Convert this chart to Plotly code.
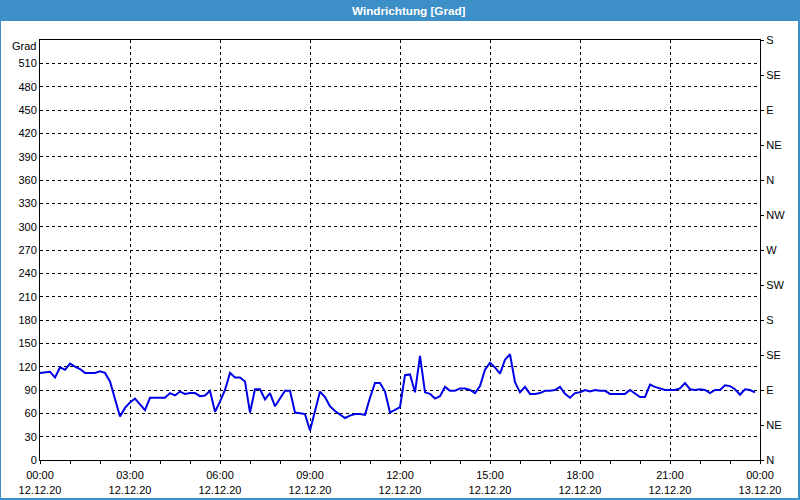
import pandas as pd
import plotly.graph_objects as go

# 10-minute wind direction readings (degrees), 12.12.20 00:00 .. 23:50
direction = [
    112, 113, 113.5, 106, 119, 116, 124, 120, 117, 112, 112, 112,
    114, 112, 101, 80, 56, 67, 74, 79, 72, 64, 80, 80,
    80, 80, 86, 83, 88, 85, 86, 86, 82, 83, 89, 62,
    75, 90, 112, 106, 106, 101, 61, 91, 91, 78, 86, 69,
    79, 89, 89, 61, 60, 59, 38, 63, 88, 81, 69, 63,
    58, 54, 57, 59, 59, 58, 80, 99, 99, 88, 61, 64,
    68, 109, 110, 87, 134, 87, 85, 79, 82, 94, 89, 89,
    92, 92, 90, 86, 95, 116, 125, 119, 111, 129, 136, 100,
    87, 94, 85, 85, 86, 89, 89, 90, 94, 85, 80, 86,
    87, 90, 88, 90, 89, 89, 85, 85, 85, 85, 90, 86,
    81, 81, 97, 94, 92, 90, 90, 90, 92, 99, 91, 90,
    91, 90, 86, 90, 90, 96, 95, 91, 84, 91, 90, 87,
]
start_time = "2020-12-12 00:00"
times = pd.date_range(start_time, periods=len(direction), freq="10min")

x_tick_times = ["2020-12-12 00:00", "2020-12-12 03:00", "2020-12-12 06:00",
                "2020-12-12 09:00", "2020-12-12 12:00", "2020-12-12 15:00",
                "2020-12-12 18:00", "2020-12-12 21:00", "2020-12-13 00:00"]
x_tick_text = ["00:00<br>12.12.20", "03:00<br>12.12.20", "06:00<br>12.12.20",
               "09:00<br>12.12.20", "12:00<br>12.12.20", "15:00<br>12.12.20",
               "18:00<br>12.12.20", "21:00<br>12.12.20", "00:00<br>13.12.20"]
y_ticks = list(range(0, 540, 30))
compass_vals = list(range(0, 541, 45))
compass_text = ["N", "NE", "E", "SE", "S", "SW", "W", "NW", "N", "NE", "E", "SE", "S"]

title_text = "Windrichtung [Grad]"
unit_text = "Grad"

FONT = "Liberation Sans"
W, H = 800, 500
L, R, T, B = 40, 40, 40, 40
PW, PH = W - L - R, H - T - B

def px(x):
    return (x - L) / PW

def py(y):
    return (H - B - y) / PH

fig = go.Figure()
fig.add_trace(go.Scatter(x=times, y=direction, mode="lines",
                         line=dict(color="#0000e6", width=2), showlegend=False))
# invisible trace for right compass axis
fig.add_trace(go.Scatter(x=[times[0]], y=[0], yaxis="y2", mode="markers",
                         marker=dict(opacity=0), showlegend=False, hoverinfo="skip"))

fig.update_layout(
    width=W, height=H,
    margin=dict(l=L, r=R, t=T, b=B, autoexpand=False),
    paper_bgcolor="white", plot_bgcolor="white",
    font=dict(family=FONT, size=11, color="black"),
    xaxis=dict(
        range=["2020-12-12 00:00", "2020-12-13 00:00"],
        tickvals=x_tick_times, ticktext=x_tick_text,
        showgrid=True, gridcolor="black", griddash="3px,3px", gridwidth=1,
        showline=True, linecolor="black", linewidth=1, mirror=True,
        ticks="outside", ticklen=3, tickcolor="black", ticklabelstandoff=2,
        minor=dict(dtick=3600000, ticks="outside", ticklen=3, tickcolor="black", showgrid=False),
        zeroline=False, tickangle=0, automargin=False,
    ),
    yaxis=dict(
        range=[0, 540], tickvals=y_ticks,
        showgrid=True, gridcolor="black", griddash="3px,3px", gridwidth=1,
        showline=True, linecolor="black", linewidth=1, mirror=True,
        ticks="", zeroline=False, automargin=False,
    ),
    yaxis2=dict(
        range=[0, 540], overlaying="y", side="right",
        tickvals=compass_vals, ticktext=compass_text,
        showgrid=False, showline=True, linecolor="black", linewidth=1,
        ticks="outside", ticklen=3, tickcolor="black", zeroline=False, automargin=False,
    ),
    shapes=[
        dict(type="rect", xref="paper", yref="paper", x0=px(0), x1=px(W), y0=py(21), y1=py(0),
             fillcolor="#3c8fc7", line=dict(width=0), layer="below"),
        dict(type="rect", xref="paper", yref="paper", x0=px(0), x1=px(1), y0=py(H), y1=py(0),
             fillcolor="#3c8fc7", line=dict(width=0)),
        dict(type="rect", xref="paper", yref="paper", x0=px(W - 2), x1=px(W), y0=py(H), y1=py(0),
             fillcolor="#3c8fc7", line=dict(width=0)),
        dict(type="rect", xref="paper", yref="paper", x0=px(0), x1=px(W), y0=py(H), y1=py(H - 2),
             fillcolor="#3c8fc7", line=dict(width=0)),
    ],
    annotations=[
        dict(text="<b>" + title_text + "</b>", xref="paper", yref="paper",
             x=px(409), y=py(10.5), xanchor="center", yanchor="middle", showarrow=False,
             font=dict(family=FONT, size=11.7, color="white")),
        dict(text=unit_text, xref="paper", yref="paper",
             x=px(38), y=py(46.5), xanchor="right", yanchor="middle", showarrow=False,
             font=dict(family=FONT, size=11, color="black")),
    ],
)

fig.write_html("out.html")
